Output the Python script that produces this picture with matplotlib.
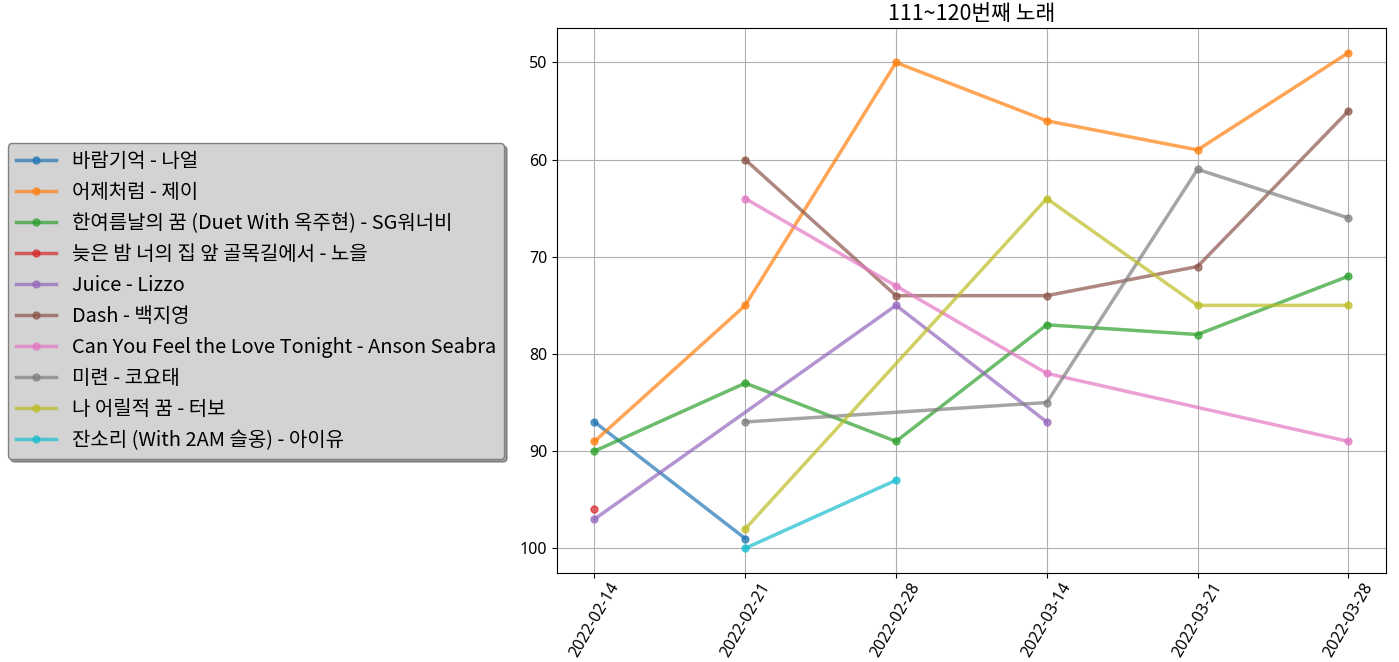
import matplotlib
matplotlib.use("Agg")
import matplotlib.pyplot as plt

plt.rcParams['font.family'] = ['Noto Sans CJK KR', 'DejaVu Sans']
plt.rcParams['axes.unicode_minus'] = False

title = "111~120번째 노래"

songs = [
    "바람기억 - 나얼",
    "어제처럼 - 제이",
    "한여름날의 꿈 (Duet With 옥주현) - SG워너비",
    "늦은 밤 너의 집 앞 골목길에서 - 노을",
    "Juice - Lizzo",
    "Dash - 백지영",
    "Can You Feel the Love Tonight - Anson Seabra",
    "미련 - 코요태",
    "나 어릴적 꿈 - 터보",
    "잔소리 (With 2AM 슬옹) - 아이유",
]

# weeks each song was on the chart (string categories, drawn in first-seen order)
dates = [
    ["2022-02-14", "2022-02-21"],
    ["2022-02-14", "2022-02-21", "2022-02-28", "2022-03-14", "2022-03-21", "2022-03-28"],
    ["2022-02-14", "2022-02-21", "2022-02-28", "2022-03-14", "2022-03-21", "2022-03-28"],
    ["2022-02-14"],
    ["2022-02-14", "2022-02-28", "2022-03-14"],
    ["2022-02-21", "2022-02-28", "2022-03-14", "2022-03-21", "2022-03-28"],
    ["2022-02-21", "2022-02-28", "2022-03-14", "2022-03-28"],
    ["2022-02-21", "2022-03-14", "2022-03-21", "2022-03-28"],
    ["2022-02-21", "2022-03-14", "2022-03-21", "2022-03-28"],
    ["2022-02-21", "2022-02-28"],
]

ranks = [
    [87, 99],
    [89, 75, 50, 56, 59, 49],
    [90, 83, 89, 77, 78, 72],
    [96],
    [97, 75, 87],
    [60, 74, 74, 71, 55],
    [64, 73, 82, 89],
    [87, 85, 61, 66],
    [98, 64, 75, 75],
    [100, 93],
]

fig = plt.figure(figsize=(13.99, 6.62), dpi=100)
ax = fig.add_axes([0.398, 0.1344, 0.5927, 0.8233])

for name, d, r in zip(songs, dates, ranks):
    ax.plot(d, r, marker='o', markersize=5, linewidth=2.5, alpha=0.7, label=name)

ax.invert_yaxis()
ax.grid(True)
ax.set_title(title, fontsize=15.5)
ax.tick_params(axis='y', labelsize=11.5)
ax.tick_params(axis='x', labelsize=11.5, pad=1.5)
for lbl in ax.get_xticklabels() + ax.get_yticklabels():
    lbl.set_family(['Noto Sans', 'DejaVu Sans'])
plt.setp(ax.get_xticklabels(), rotation=60)

fig.legend(loc='center left', bbox_to_anchor=(0.0057, 0.545),
           borderaxespad=0, fontsize=14.4, shadow=True, fancybox=True,
           facecolor='lightgray', edgecolor='gray', framealpha=1)

fig.savefig("out.png", dpi=100)
